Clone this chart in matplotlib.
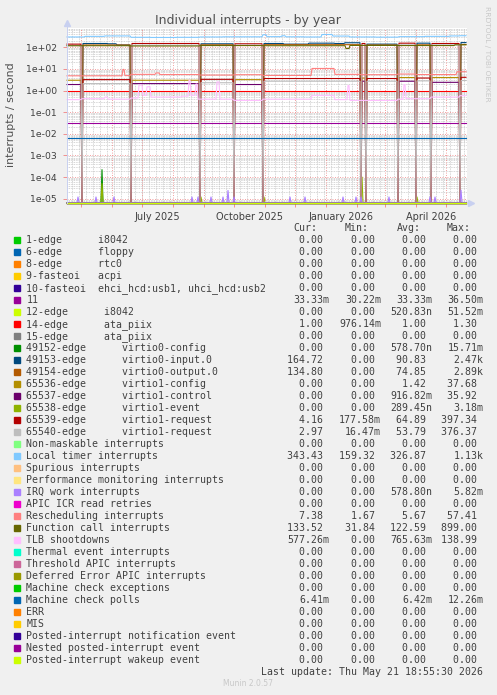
"""Munin 'Individual interrupts - by year' chart, redrawn with matplotlib."""

import matplotlib
matplotlib.use("Agg")
import matplotlib.pyplot as plt
from matplotlib.patches import Rectangle
import numpy as np
import pandas as pd

W, H = 497, 695

# --- data (daily samples, one year + a bit, as in munin's year graph) ---
days = pd.date_range("2025-04-17", "2026-05-21", freq="D")

# VM reboots: virtio devices swap IRQ numbers at each of these
reboots = ["2025-05-02", "2025-06-20", "2025-08-28", "2025-10-01", "2025-10-30",
           "2026-02-05", "2026-02-10", "2026-03-14", "2026-04-01", "2026-04-16",
           "2026-05-15"]
period_starts = ["2025-04-17"] + reboots

# one level per period between reboots
virtio0_output = [0, 128, 0, 130, 0, 132, 0, 128, 0, 130, 0, 135]
virtio1_config = [3.0, 0, 3.0, 0, 3.2, 0, 3.8, 0, 4.0, 0, 4.0, 0]
virtio1_control = [1.9, 0, 2.1, 0, 1.9, 0, 2.7, 0, 2.7, 0, 2.4, 0]
virtio1_request_a = [140, 3.2, 150, 3.3, 145, 3.6, 150, 3.6, 155, 3.8, 150, 4.1]
virtio1_request_b = [120, 2.1, 125, 2.3, 125, 2.7, 125, 2.7, 130, 2.8, 130, 2.9]

# (date, value) breakpoints
virtio0_input_pts = [("2025-04-17", 0), ("2025-05-02", 150), ("2025-05-28", 145),
                     ("2025-06-06", 128), ("2025-06-20", 0), ("2025-08-28", 145),
                     ("2025-10-01", 0), ("2025-10-30", 150), ("2025-11-20", 140),
                     ("2025-12-15", 155), ("2026-01-10", 150), ("2026-01-20", 162),
                     ("2026-02-05", 0), ("2026-02-10", 140), ("2026-03-14", 0),
                     ("2026-04-01", 155), ("2026-04-16", 0), ("2026-05-15", 165)]
local_timer_pts = [("2025-04-17", 300), ("2025-05-05", 320), ("2025-05-25", 335),
                   ("2025-06-20", 290), ("2025-07-10", 285), ("2025-08-05", 290),
                   ("2025-08-28", 300), ("2025-09-20", 305), ("2025-10-30", 380),
                   ("2025-11-03", 310), ("2025-11-18", 340), ("2025-11-22", 305),
                   ("2025-12-10", 300), ("2025-12-28", 390), ("2026-01-08", 330),
                   ("2026-01-25", 300), ("2026-02-20", 295), ("2026-03-15", 310),
                   ("2026-04-10", 320), ("2026-05-05", 335), ("2026-05-15", 343)]
function_call_pts = [("2025-04-17", 118), ("2025-06-20", 115), ("2025-08-28", 120),
                     ("2025-10-30", 118), ("2026-01-21", 88), ("2026-01-25", 122),
                     ("2026-03-15", 120), ("2026-05-10", 130)]
resched_pts = [("2025-04-17", 4.8), ("2025-06-12", 9.5), ("2025-06-14", 4.9),
               ("2025-06-20", 5.6), ("2025-07-15", 6.5), ("2025-07-19", 5.5),
               ("2025-08-28", 5.2), ("2025-10-01", 5.4), ("2025-10-30", 5.0),
               ("2025-12-18", 10.5), ("2026-01-10", 5.6), ("2026-02-05", 5.4),
               ("2026-03-14", 5.8), ("2026-04-01", 5.5), ("2026-05-12", 7.4)]
tlb_pts = [("2025-04-17", 0.38), ("2025-05-02", 0.42), ("2025-05-25", 0.5),
           ("2025-05-28", 0.4), ("2025-06-20", 0.45), ("2025-06-28", 1.8),
           ("2025-07-02", 0.6), ("2025-07-06", 1.5), ("2025-07-10", 0.5),
           ("2025-08-10", 0.55), ("2025-08-17", 3.0), ("2025-08-19", 0.6),
           ("2025-08-24", 2.0), ("2025-08-26", 0.4), ("2025-09-14", 2.5),
           ("2025-09-17", 0.4), ("2025-10-01", 0.35), ("2025-10-30", 0.4),
           ("2025-12-18", 0.6), ("2026-01-10", 0.38), ("2026-01-23", 1.7),
           ("2026-01-25", 0.35), ("2026-03-14", 0.4), ("2026-03-20", 1.9),
           ("2026-03-22", 0.42), ("2026-04-16", 0.5), ("2026-05-15", 0.58)]
irq_work_spikes = [("2025-04-28", 1.2e-5), ("2025-05-16", 1.2e-5), ("2025-06-03", 1.2e-5),
                   ("2025-08-20", 1.2e-5), ("2025-08-26", 1.2e-5), ("2025-09-08", 1.2e-5),
                   ("2025-09-20", 1.2e-5), ("2025-09-25", 2.4e-5), ("2025-10-01", 1.2e-5),
                   ("2025-11-26", 1.2e-5), ("2025-12-11", 1.2e-5), ("2026-01-18", 1.2e-5),
                   ("2026-01-31", 1.2e-5), ("2026-02-05", 1.2e-5), ("2026-03-05", 1.2e-5),
                   ("2026-04-15", 1.2e-5), ("2026-04-20", 1.2e-5), ("2026-05-16", 2.5e-5)]
virtio0_config_spikes = [("2025-05-22", 2.2e-4)]
virtio1_event_spikes = [("2025-05-22", 5e-5), ("2025-08-29", 1.2e-5),
                        ("2025-10-31", 1.2e-5), ("2026-02-06", 1e-4),
                        ("2026-04-02", 1.2e-5)]
irq11_level = 0.0333
ata_level = 1.0
mce_poll_level = 0.0064

FLOOR = 10 ** -5.185
TOP = 10 ** 2.892


def steps(points):
    out = np.zeros(len(days))
    dates = [days.searchsorted(pd.Timestamp(d)) for d, _ in points] + [len(days)]
    for k, (_, v) in enumerate(points):
        out[dates[k]:dates[k + 1]] = v
    return out


def per_period(levels, zero_reboots=True):
    out = steps(list(zip(period_starts, levels)))
    if zero_reboots:
        for d in reboots:
            out[days.searchsorted(pd.Timestamp(d))] = 0
    return out


def spikes(points):
    out = np.zeros(len(days))
    for d, v in points:
        out[days.searchsorted(pd.Timestamp(d))] = v
    return out


zero = np.zeros(len(days))
inp = steps(virtio0_input_pts)
for d in reboots:
    inp[days.searchsorted(pd.Timestamp(d))] = 0

# label, colour, values, cur, min, avg, max
series = [
    ("1-edge      i8042", "#00CC00", zero, "0.00", "0.00", "0.00", "0.00"),
    ("6-edge      floppy", "#0066B3", zero, "0.00", "0.00", "0.00", "0.00"),
    ("8-edge      rtc0", "#FF8000", zero, "0.00", "0.00", "0.00", "0.00"),
    ("9-fasteoi   acpi", "#FFCC00", zero, "0.00", "0.00", "0.00", "0.00"),
    ("10-fasteoi  ehci_hcd:usb1, uhci_hcd:usb2", "#330099", zero, "0.00", "0.00", "0.00", "0.00"),
    ("11", "#990099", np.full(len(days), irq11_level), "33.33m", "30.22m", "33.33m", "36.50m"),
    ("12-edge      i8042", "#CCFF00", zero, "0.00", "0.00", "520.83n", "51.52m"),
    ("14-edge      ata_piix", "#FF0000", np.full(len(days), ata_level), "1.00", "976.14m", "1.00", "1.30"),
    ("15-edge      ata_piix", "#808080", zero, "0.00", "0.00", "0.00", "0.00"),
    ("49152-edge      virtio0-config", "#008F00", spikes(virtio0_config_spikes), "0.00", "0.00", "578.70n", "15.71m"),
    ("49153-edge      virtio0-input.0", "#00487D", inp, "164.72", "0.00", "90.83", "2.47k"),
    ("49154-edge      virtio0-output.0", "#B35A00", per_period(virtio0_output), "134.80", "0.00", "74.85", "2.89k"),
    ("65536-edge      virtio1-config", "#B38F00", per_period(virtio1_config), "0.00", "0.00", "1.42", "37.68"),
    ("65537-edge      virtio1-control", "#6B006B", per_period(virtio1_control), "0.00", "0.00", "916.82m", "35.92"),
    ("65538-edge      virtio1-event", "#8FB300", spikes(virtio1_event_spikes), "0.00", "0.00", "289.45n", "3.18m"),
    ("65539-edge      virtio1-request", "#B30000", per_period(virtio1_request_a), "4.16", "177.58m", "64.89", "397.34"),
    ("65540-edge      virtio1-request", "#BEBEBE", per_period(virtio1_request_b), "2.97", "16.47m", "53.79", "376.37"),
    ("Non-maskable interrupts", "#80FF80", zero, "0.00", "0.00", "0.00", "0.00"),
    ("Local timer interrupts", "#80C9FF", steps(local_timer_pts), "343.43", "159.32", "326.87", "1.13k"),
    ("Spurious interrupts", "#FFC080", zero, "0.00", "0.00", "0.00", "0.00"),
    ("Performance monitoring interrupts", "#FFE680", zero, "0.00", "0.00", "0.00", "0.00"),
    ("IRQ work interrupts", "#AA80FF", spikes(irq_work_spikes), "0.00", "0.00", "578.80n", "5.82m"),
    ("APIC ICR read retries", "#EE00CC", zero, "0.00", "0.00", "0.00", "0.00"),
    ("Rescheduling interrupts", "#FF8080", steps(resched_pts), "7.38", "1.67", "5.67", "57.41"),
    ("Function call interrupts", "#666600", steps(function_call_pts), "133.52", "31.84", "122.59", "899.00"),
    ("TLB shootdowns", "#FFBFFF", steps(tlb_pts), "577.26m", "0.00", "765.63m", "138.99"),
    ("Thermal event interrupts", "#00FFCC", zero, "0.00", "0.00", "0.00", "0.00"),
    ("Threshold APIC interrupts", "#CC6699", zero, "0.00", "0.00", "0.00", "0.00"),
    ("Deferred Error APIC interrupts", "#999900", zero, "0.00", "0.00", "0.00", "0.00"),
    ("Machine check exceptions", "#00CC00", zero, "0.00", "0.00", "0.00", "0.00"),
    ("Machine check polls", "#0066B3", np.full(len(days), mce_poll_level), "6.41m", "0.00", "6.42m", "12.26m"),
    ("ERR", "#FF8000", zero, "0.00", "0.00", "0.00", "0.00"),
    ("MIS", "#FFCC00", zero, "0.00", "0.00", "0.00", "0.00"),
    ("Posted-interrupt notification event", "#330099", zero, "0.00", "0.00", "0.00", "0.00"),
    ("Nested posted-interrupt event", "#990099", zero, "0.00", "0.00", "0.00", "0.00"),
    ("Posted-interrupt wakeup event", "#CCFF00", zero, "0.00", "0.00", "0.00", "0.00"),
]

x_labels = ["July 2025", "October 2025", "January 2026", "April 2026"]
x_label_dates = ["2025-07-16", "2025-10-16", "2026-01-16", "2026-04-16"]


def fx(px):
    return px / W


def fy(py):
    return 1 - py / H


fig = plt.figure(figsize=(W / 100, H / 100), dpi=100, facecolor="#F0F0F0")
ax = fig.add_axes([fx(66.5), fy(202.7), (466.5 - 66.5) / W, (202.7 - 28) / H])
ax.set_facecolor("white")
ax.set_yscale("log")
x0 = pd.Timestamp("2025-04-16 12:00")
x1 = pd.Timestamp("2026-05-21 12:00")
ax.set_xlim(x0, x1)
ax.set_ylim(FLOOR, TOP)

# grid: weekly / monthly verticals, log minors / decades horizontals
for d in pd.date_range(x0, x1, freq="W-MON"):
    ax.axvline(d, color="#C8C8C8", lw=0.6, ls=(0, (1, 1)), zorder=0)
months = pd.date_range("2025-05-01", x1, freq="MS")
for d in months:
    ax.axvline(d, color="#F08080", lw=0.6, ls=(0, (1, 2)), zorder=0.5)
decades = [10.0 ** e for e in range(-5, 3)]
for e in range(-6, 3):
    for m in range(2, 10):
        v = m * 10.0 ** e
        if FLOOR < v < TOP:
            ax.axhline(v, color="#C8C8C8", lw=0.6, ls=(0, (1, 1)), zorder=0)
for v in decades:
    ax.axhline(v, color="#F08080", lw=0.6, ls=(0, (1, 2)), zorder=0.5)

for label, color, vals, *_ in series:
    ax.plot(days, np.clip(np.where(vals > 0, vals, FLOOR), FLOOR, TOP),
            color=color, lw=0.8, clip_on=False, zorder=2)

for s in ("top", "right"):
    ax.spines[s].set_visible(False)
ax.spines["left"].set_color("#C8D0F0")
ax.spines["bottom"].set_color("#C8D0F0")
ax.spines["left"].set_linewidth(0.7)
ax.spines["bottom"].set_linewidth(0.7)
ax.spines["bottom"].set_zorder(1)
ax.plot([0], [1.028], marker="^", ms=4, color="#C8D0F0", transform=ax.transAxes, clip_on=False)
ax.plot([0, 0], [1.0, 1.028], color="#C8D0F0", lw=0.7, transform=ax.transAxes, clip_on=False)
ax.plot([1.0102], [0], marker=">", ms=4, color="#C8D0F0", transform=ax.transAxes, clip_on=False)
ax.plot([1.0, 1.01], [0, 0], color="#C8D0F0", lw=0.7, transform=ax.transAxes, clip_on=False)

ax.set_yticks(decades)
ax.set_yticklabels([f"{v:.0e}" for v in decades])
ax.yaxis.set_minor_locator(matplotlib.ticker.NullLocator())
ax.tick_params(axis="y", length=3, width=0.6, color="#F08080", pad=4,
               labelsize=6.7, labelcolor="#404040")
ax.set_xticks(months)
ax.set_xticklabels([])
ax.tick_params(axis="x", length=3, width=0.6, color="#F08080")
for lab, d in zip(x_labels, x_label_dates):
    ax.text(pd.Timestamp(d), -0.055, lab, transform=ax.get_xaxis_transform(),
            ha="center", va="top", fontsize=7, color="#404040")

fig.text(fx(248), fy(24), "Individual interrupts - by year", ha="center",
         va="baseline", fontsize=9, color="#505050")
fig.text(fx(11), fy(114.5), "interrupts / second", rotation=90, ha="center",
         va="center", fontsize=7.9, color="#505050")
fig.text(fx(486.5), fy(53.5), "RRDTOOL / TOBI OETIKER", rotation=-90, ha="center",
         va="center", fontsize=5.4, color="#C8C8C8")

# legend table
mono = dict(family="DejaVu Sans Mono", fontsize=7.14, color="#404040", va="baseline")
for hdr, xl in zip(["Cur:", "Min:", "Avg:", "Max:"], [293.3, 345, 396.7, 446.7]):
    fig.text(fx(xl), fy(231), hdr, ha="left", **mono)
col_right = [329, 381, 432.3, 483.3]
for i, (label, color, vals, *stats) in enumerate(series):
    base = 243 + 12 * i
    fig.add_artist(Rectangle((fx(14), fy(base)), 6 / W, 6 / H, color=color,
                             transform=fig.transFigure))
    fig.text(fx(26.3), fy(base), label, ha="left", **mono)
    for s, xr in zip(stats, col_right):
        txt = s if s[-1].isalpha() else s + " "
        fig.text(fx(xr), fy(base), txt, ha="right", **mono)

fig.text(fx(483), fy(675), "Last update: Thu May 21 18:55:30 2026", ha="right", **mono)
fig.text(fx(248), fy(686.5), "Munin 2.0.57", ha="center", va="baseline",
         fontsize=5.5, color="#C8C8C8")

fig.savefig("out.png", dpi=100, facecolor=fig.get_facecolor())
